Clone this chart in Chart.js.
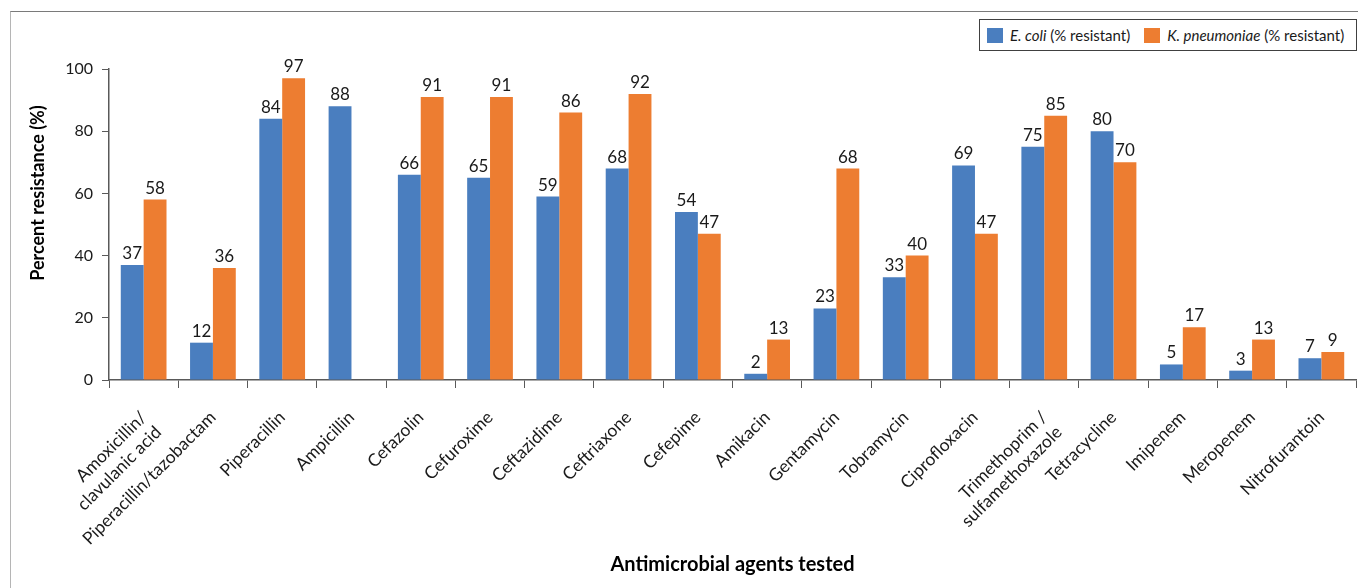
<!DOCTYPE html>
<html>
<head>
<meta charset="utf-8">
<script src="https://cdn.jsdelivr.net/npm/chart.js@4/dist/chart.umd.min.js"></script>
<style>
  html, body { margin: 0; padding: 0; background: #fff; }
  #wrap { position: relative; width: 1358px; height: 588px; overflow: hidden; }
  #frame { position: absolute; left: 10px; top: 11px; width: 1400px; height: 600px;
           border-top: 1px solid #7a7a7a; border-left: 1px solid #b5b5b5; }
  canvas { position: absolute; left: 0; top: 0; }
  #legend { position: absolute; left: 979px; top: 19px; width: 376px; height: 30px;
            border: 1px solid #404040; background: #fff; display: flex; align-items: center;
            font-family: Lato, "Open Sans", sans-serif; font-size: 15px; color: #1a1a1a; }
  .item { display: flex; align-items: center; margin-left: 7px; white-space: pre; }
  .item + .item { margin-left: 14px; }
  .sw { width: 16px; height: 15px; margin-right: 7px; }
</style>
</head>
<body>
<div id="wrap">
  <div id="frame"></div>
  <canvas id="c" width="1358" height="588"></canvas>
  <div id="legend"></div>
</div>
<script>
// Antimicrobial agents on the x axis
const agents = [
  ["Amoxicillin/", "clavulanic acid"],
  "Piperacillin/tazobactam",
  "Piperacillin",
  "Ampicillin",
  "Cefazolin",
  "Cefuroxime",
  "Ceftazidime",
  "Ceftriaxone",
  "Cefepime",
  "Amikacin",
  "Gentamycin",
  "Tobramycin",
  "Ciprofloxacin",
  ["Trimethoprim /", "sulfamethoxazole"],
  "Tetracycline",
  "Imipenem",
  "Meropenem",
  "Nitrofurantoin"
];

// Percent resistant per agent
const ecoli = [37, 12, 84, 88, 66, 65, 59, 68, 54, 2, 23, 33, 69, 75, 80, 5, 3, 7];
const kpneumoniae = [58, 36, 97, null, 91, 91, 86, 92, 47, 13, 68, 40, 47, 85, 70, 17, 13, 9];

// Series names: italic organism name + plain suffix
const seriesNames = [
  { organism: "E. coli", suffix: " (% resistant)" },
  { organism: "K. pneumoniae", suffix: " (% resistant)" }
];

const yTicks = [0, 20, 40, 60, 80, 100];

const BLUE = "#4A7EBF";
const ORANGE = "#ED7D31";
const AXIS = "#595959";
const FONT = "Lato, 'Open Sans', sans-serif";

// Numbers printed above every bar
const valueLabels = {
  id: "valueLabels",
  afterDatasetsDraw(chart) {
    const ctx = chart.ctx;
    ctx.save();
    ctx.font = "17px " + FONT;
    ctx.fillStyle = "#1a1a1a";
    ctx.textAlign = "center";
    ctx.textBaseline = "alphabetic";
    chart.data.datasets.forEach((ds, i) => {
      const meta = chart.getDatasetMeta(i);
      meta.data.forEach((bar, j) => {
        const v = ds.data[j];
        if (v === null || v === undefined) return;
        ctx.fillText(String(v), bar.x, bar.y - 6);
      });
    });
    ctx.restore();
  }
};

// Axis titles
const axisTitles = {
  id: "axisTitles",
  afterDraw(chart) {
    const ctx = chart.ctx;
    const area = chart.chartArea;
    ctx.save();
    ctx.fillStyle = "#000";
    ctx.textAlign = "center";
    ctx.textBaseline = "middle";
    ctx.font = "bold 20px " + FONT;
    ctx.fillText("Antimicrobial agents tested", (area.left + area.right) / 2, 565);
    ctx.font = "bold 18px " + FONT;
    ctx.translate(38, 193);
    ctx.rotate(-Math.PI / 2);
    ctx.fillText("Percent resistance (%)", 0, 0);
    ctx.restore();
  }
};

const chart = new Chart(document.getElementById("c"), {
  type: "bar",
  data: {
    labels: agents,
    datasets: [
      { label: seriesNames[0].organism + seriesNames[0].suffix, data: ecoli, backgroundColor: BLUE },
      { label: seriesNames[1].organism + seriesNames[1].suffix, data: kpneumoniae, backgroundColor: ORANGE }
    ]
  },
  options: {
    responsive: false,
    animation: false,
    devicePixelRatio: 1,
    layout: { padding: { top: 69, right: 2, left: 0, bottom: 0 } },
    datasets: { bar: { categoryPercentage: 0.66, barPercentage: 1.0 } },
    plugins: {
      legend: { display: false },
      tooltip: { enabled: false }
    },
    scales: {
      x: {
        offset: true,
        grid: { offset: true, drawOnChartArea: false, drawTicks: true, tickLength: 8, color: AXIS, lineWidth: 1 },
        border: { display: true, color: AXIS, width: 1.5 },
        ticks: {
          autoSkip: false, minRotation: 45, maxRotation: 45, padding: 19,
          color: "#1a1a1a", font: { family: FONT, size: 17.5 }
        },
        afterFit(scale) { scale.height = 208; }
      },
      y: {
        min: 0, max: 100,
        afterBuildTicks(scale) { scale.ticks = yTicks.map(v => ({ value: v })); },
        grid: { drawOnChartArea: false, drawTicks: true, tickLength: 7, color: AXIS, lineWidth: 1 },
        border: { display: true, color: AXIS, width: 1.5 },
        ticks: { padding: 9, color: "#1a1a1a", font: { family: FONT, size: 16 } },
        afterFit(scale) { scale.width = 109; }
      }
    }
  },
  plugins: [valueLabels, axisTitles]
});

// Legend box built from the chart's own datasets
const legend = document.getElementById("legend");
chart.data.datasets.forEach((ds, i) => {
  const item = document.createElement("div");
  item.className = "item";
  const sw = document.createElement("span");
  sw.className = "sw";
  sw.style.background = ds.backgroundColor;
  const name = document.createElement("i");
  name.textContent = seriesNames[i].organism;
  const rest = document.createElement("span");
  rest.textContent = seriesNames[i].suffix;
  item.appendChild(sw);
  item.appendChild(name);
  item.appendChild(rest);
  legend.appendChild(item);
});
</script>
</body>
</html>
